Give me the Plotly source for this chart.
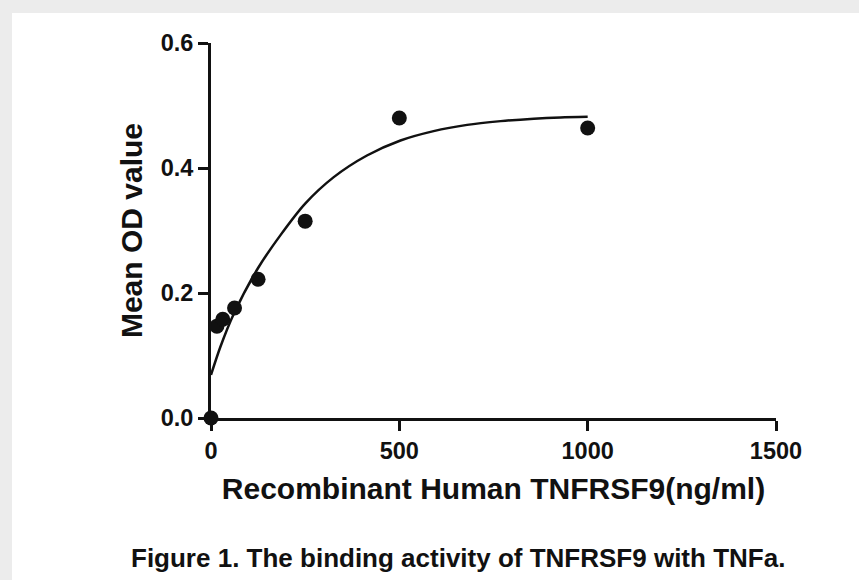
import plotly.graph_objects as go

# Measured data points
conc = [0, 15.625, 31.25, 62.5, 125, 250, 500, 1000]
mean_od = [0.0, 0.147, 0.158, 0.176, 0.222, 0.315, 0.480, 0.464]

# Fitted curve
curve_x = [0, 25, 60, 125, 185, 250, 325, 414, 503, 591, 680, 769, 857, 928, 1000]
curve_y = [0.069, 0.114, 0.166, 0.240, 0.293, 0.343, 0.385, 0.420, 0.444,
           0.459, 0.469, 0.475, 0.479, 0.481, 0.482]

x_ticks = [0, 500, 1000, 1500]
y_ticks = [0.0, 0.2, 0.4, 0.6]
y_tick_labels = ["0.0", "0.2", "0.4", "0.6"]

x_title = "Recombinant Human TNFRSF9(ng/ml)"
y_title = "Mean OD value"
caption = "Figure 1. The binding activity of TNFRSF9 with TNFa."

FONT = "Liberation Sans, Arial, sans-serif"
INK = "#111111"

fig = go.Figure()
fig.add_trace(go.Scatter(
    x=curve_x, y=curve_y, mode="lines",
    line=dict(color=INK, width=2.5, shape="spline", smoothing=0.8),
    showlegend=False, hoverinfo="skip", cliponaxis=False,
))
fig.add_trace(go.Scatter(
    x=conc, y=mean_od, mode="markers",
    marker=dict(color=INK, size=15, symbol="circle"),
    showlegend=False, cliponaxis=False,
))

W, H = 859, 580
L, R, T, B = 211, 83, 43, 161.5
pw, ph = W - L - R, H - T - B

def px_x(p):
    return (p - L) / pw

def px_y(p):
    return (H - B - p) / ph

fig.update_layout(
    width=W, height=H,
    margin=dict(l=L, r=R, t=T, b=B, autoexpand=False),
    paper_bgcolor="#ececec",
    plot_bgcolor="rgba(0,0,0,0)",
    font=dict(family=FONT, color=INK),
    shapes=[dict(type="rect", xref="paper", yref="paper",
                 x0=px_x(12), x1=px_x(W + 5), y0=px_y(H + 5), y1=px_y(13),
                 fillcolor="white", line=dict(width=0), layer="below")],
    annotations=[dict(text="<b>" + caption + "</b>", xref="paper", yref="paper",
                      x=px_x(458), y=px_y(559), xanchor="center", yanchor="middle",
                      showarrow=False, font=dict(size=26, family=FONT, color=INK))],
)

fig.update_xaxes(
    range=[0, 1500], tickvals=x_ticks, ticktext=["<b>%d</b>" % v for v in x_ticks],
    ticks="outside", ticklen=10, tickwidth=2.5,
    tickcolor=INK, showline=True, linecolor=INK, linewidth=3, showgrid=False,
    zeroline=False, tickfont=dict(size=23.5, family=FONT, color=INK),
    title=dict(text="<b>" + x_title + "</b>", font=dict(size=30, family=FONT, color=INK), standoff=15),
)
fig.update_yaxes(
    range=[0, 0.6], tickvals=y_ticks, ticktext=["<b>%s</b>" % t for t in y_tick_labels],
    ticks="outside", ticklen=10, tickwidth=2.5,
    tickcolor=INK, showline=True, linecolor=INK, linewidth=3, showgrid=False,
    zeroline=False, tickfont=dict(size=23.5, family=FONT, color=INK),
    title=dict(text="<b>" + y_title + "</b>", font=dict(size=30, family=FONT, color=INK), standoff=10),
)

fig.write_html(
    "out.html",
    config={"displayModeBar": False},
    post_script="document.body.style.margin='0';document.body.style.background='#ececec';",
)
